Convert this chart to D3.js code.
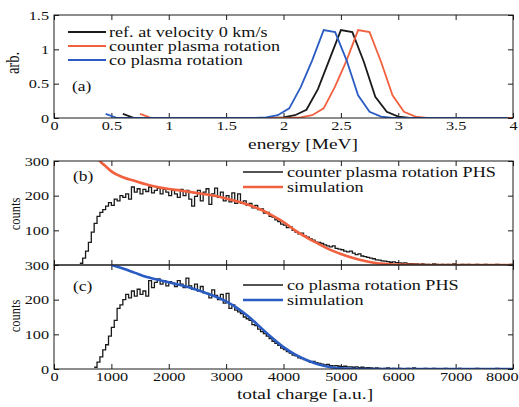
<!DOCTYPE html>
<html>
<head>
<meta charset="utf-8">
<script src="https://cdn.jsdelivr.net/npm/d3@7"></script>
<style>
  body { margin: 0; background: #fff; }
  svg text { font-family: "Liberation Serif", "DejaVu Serif", serif; fill: #111; }
</style>
</head>
<body>
<svg id="chart" width="519" height="407"></svg>
<script>
// ---------- panel (a): energy spectra, sampled every 0.1 MeV ----------
const refStart = 0.6
const refValues = [0.06, 0, 0, 0, 0, 0, 0, 0, 0, 0, 0, 0, 0, 0, 0.01, 0.04, 0.12, 0.42, 0.85, 1.28,
  1.25, 0.82, 0.31, 0.09, 0.02, 0, 0, 0, 0, 0, 0, 0, 0, 0, 0]
const counterStart = 0.75
const counterValues = [0.06, 0, 0, 0, 0, 0, 0, 0, 0, 0, 0, 0, 0, 0, 0.01, 0.04, 0.14, 0.46, 0.84, 1.28,
  1.25, 0.82, 0.33, 0.09, 0.02, 0, 0, 0, 0, 0, 0, 0, 0, 0]
const coStart = 0.45
const coValues = [0.06, 0, 0, 0, 0, 0, 0, 0, 0, 0, 0, 0, 0, 0, 0.01, 0.04, 0.14, 0.45, 0.84, 1.28,
  1.25, 0.84, 0.33, 0.09, 0.02, 0, 0, 0, 0, 0, 0, 0, 0, 0, 0, 0]
const energyStep = 0.1

const energyTicks = [0, 0.5, 1, 1.5, 2, 2.5, 3, 3.5, 4]
const arbTicks = [0, 0.5, 1, 1.5]

// ---------- panels (b) and (c): pulse height spectra, 50 a.u. bins ----------
const binWidth = 50
const phsCounterStart = 450
const phsCounter = [
  5, 20, 40, 65, 95, 120, 140, 152, 160, 170, 180,
  172, 190, 185, 200, 195, 205, 190, 225, 210, 220,
  205, 218, 212, 225, 208, 215, 222, 205, 218, 210,
  200, 215, 205, 195, 218, 200, 215, 190, 170, 198,
  215, 185, 210, 220, 175, 205, 222, 195, 210, 185,
  200, 182, 208, 178, 205, 178, 185, 172, 178, 165,
  172, 160, 162, 150, 152, 140, 138, 130, 125, 118,
  115, 108, 110, 100, 95, 90, 92, 84, 80, 75,
  72, 66, 65, 62, 58, 55, 52, 55, 48, 46,
  44, 40, 38, 40, 34, 30, 32, 26, 24, 22,
  20, 18, 15, 14, 12, 11, 10, 8, 9, 7,
  6, 5, 6, 4, 4, 3, 3, 2, 3, 2,
  2, 1, 3, 2, 1, 2, 0, 2, 1, 3,
  1, 0, 2, 1, 2, 0, 1, 2, 1, 0,
  2, 1, 0, 1, 2, 0, 1, 0, 1, 2]

const phsCoStart = 700
const phsCo = [
  5, 20, 35, 55, 70, 95,
  120, 140, 175, 185, 200, 215, 205, 225, 210, 230,
  215, 225, 210, 255, 235, 250, 260, 245, 255, 240,
  252, 248, 238, 255, 245, 235, 262, 240, 230, 245,
  225, 238, 220, 218, 205, 228, 212, 200, 215, 190,
  218, 175, 185, 170, 165, 160, 150, 145, 140, 128,
  125, 115, 108, 102, 95, 88, 80, 74, 68, 60,
  56, 50, 46, 40, 38, 32, 30, 27, 24, 20,
  22, 18, 16, 14, 12, 13, 10, 9, 10, 8,
  7, 8, 6, 6, 5, 6, 4, 5, 3, 4,
  3, 2, 3, 2, 1, 2, 3, 1, 2, 1,
  2, 1, 0, 2, 1, 3, 1, 0, 1, 2,
  1, 0, 2, 1, 0, 1, 2, 0, 1, 0,
  1, 2, 0, 1, 0, 1, 0, 2, 1, 0,
  1, 0, 1, 0, 2, 0, 1, 0, 1, 0]

const simCounterCharge = [760, 800, 900, 1000, 1200, 1400, 1600, 1800, 2000, 2200, 2400, 2600, 2800, 3000,
  3200, 3400, 3600, 3800, 4000, 4200, 4400, 4600, 4800, 5000, 5200, 5400, 5600, 5800, 6000, 6500, 7000, 8000]
const simCounter = [310, 300, 285, 270, 253, 243, 233, 225, 219, 215, 210, 205, 200, 192,
  183, 173, 160, 143, 124, 100, 80, 62, 45, 32, 21, 12, 6, 3, 1, 0, 0, 0]

const simCoCharge = [1000, 1200, 1400, 1600, 1800, 2000, 2200, 2400, 2600, 2800, 3000, 3200, 3400, 3600,
  3800, 4000, 4200, 4400, 4600, 4800, 5000, 5200, 5500, 6000, 7000, 8000]
const simCo = [300, 290, 278, 266, 258, 250, 242, 233, 222, 210, 195, 175, 150, 120,
  90, 63, 42, 26, 14, 6, 2, 0.5, 0, 0, 0, 0]

const chargeTicks = [0, 1000, 2000, 3000, 4000, 5000, 6000, 7000, 8000]

const black = "#1a1a1a"
const red = "#f2613f"
const blue = "#2a5cc4"
const serif = "'Liberation Serif', 'DejaVu Serif', serif"
const stretch = 1.25  // the source image is horizontally stretched

const svg = d3.select("#chart")
const left = 54, right = 513

function addText(g, x, y, str, size, anchor) {
  return g.append("text")
    .attr("transform", "translate(" + x + "," + y + ") scale(" + stretch + ",1)")
    .attr("font-family", serif)
    .attr("font-size", size)
    .attr("text-anchor", anchor || "start")
    .text(str)
}

function addVText(g, x, y, str, size) {
  return g.append("text")
    .attr("transform", "translate(" + x + "," + y + ") rotate(-90) scale(1," + stretch + ")")
    .attr("font-family", serif)
    .attr("font-size", size)
    .attr("text-anchor", "middle")
    .text(str)
}

function panel(id, top, bottom, xDomain, yDomain, xTicks, yTicks, opts) {
  let x = d3.scaleLinear().domain(xDomain).range([left, right])
  let y = d3.scaleLinear().domain(yDomain).range([bottom, top])
  let g = svg.append("g")

  svg.append("clipPath").attr("id", "clip-" + id)
    .append("rect").attr("x", left).attr("y", top).attr("width", right - left).attr("height", bottom - top)

  let styleAxis = function(a) {
    a.attr("font-family", serif)
    a.select(".domain").remove()
    a.selectAll(".tick line").attr("stroke", black)
    a.selectAll(".tick text")
      .attr("font-family", serif)
      .attr("font-size", 13)
      .attr("fill", "#111")
      .attr("transform", "scale(" + stretch + ",1)")
  }

  let bottomAxis = g.append("g").attr("transform", "translate(0," + bottom + ")")
    .call(d3.axisBottom(x).tickValues(xTicks).tickSize(-5).tickPadding(3)
      .tickFormat(opts.xLabels ? d3.format("") : ""))
    .call(styleAxis)
  // last label is pulled in so it stays inside the figure
  if (opts.xLabels) {
    bottomAxis.selectAll(".tick text")
      .filter(function(d) { return d === xDomain[1] && d >= 1000 })
      .attr("text-anchor", "end")
      .attr("x", 4)
  }
  g.append("g").attr("transform", "translate(0," + top + ")")
    .call(d3.axisTop(x).tickValues(xTicks).tickSize(-5).tickFormat(""))
    .call(styleAxis)
  g.append("g").attr("transform", "translate(" + left + ",0)")
    .call(d3.axisLeft(y).tickValues(yTicks).tickSize(-5).tickPadding(4).tickFormat(d3.format("")))
    .call(styleAxis)
  g.append("g").attr("transform", "translate(" + right + ",0)")
    .call(d3.axisRight(y).tickValues(yTicks).tickSize(-5).tickFormat(""))
    .call(styleAxis)

  let plot = svg.append("g").attr("clip-path", "url(#clip-" + id + ")")

  svg.append("rect")
    .attr("x", left).attr("y", top)
    .attr("width", right - left).attr("height", bottom - top)
    .attr("fill", "none").attr("stroke", black).attr("stroke-width", 1)

  return { x: x, y: y, g: g, plot: plot }
}

// ---------- panel (a) ----------
let pa = panel("a", 15, 118, [0, 4], [0, 1.5], energyTicks, arbTicks, { xLabels: true })

let spectra = [
  { start: refStart, values: refValues, color: black, name: "ref. at velocity 0 km/s" },
  { start: counterStart, values: counterValues, color: red, name: "counter plasma rotation" },
  { start: coStart, values: coValues, color: blue, name: "co plasma rotation" }
]

spectra.forEach(function(s) {
  let gen = d3.line()
    .x(function(d, i) { return pa.x(s.start + i * energyStep) })
    .y(function(d) { return pa.y(d) })
  pa.plot.append("path")
    .attr("d", gen(s.values))
    .attr("fill", "none")
    .attr("stroke", s.color)
    .attr("stroke-width", 1.8)
})

spectra.forEach(function(s, i) {
  let ly = 32 + i * 14
  svg.append("line").attr("x1", 68).attr("x2", 106).attr("y1", ly).attr("y2", ly)
    .attr("stroke", s.color).attr("stroke-width", 1.8)
  addText(svg, 109, ly + 5, s.name, 14.5)
})
addText(svg, 72, 91, "(a)", 14)
addText(svg, 303, 149, "energy [MeV]", 15.5, "middle")
addVText(svg, 19, 63, "arb.", 14.5)

// ---------- panels (b) and (c) ----------
function histogram(p, start, values, color) {
  let pts = values.map(function(v, i) { return [start + i * binWidth, v] })
  pts.push([start + values.length * binWidth, values[values.length - 1]])
  let gen = d3.line()
    .x(function(d) { return p.x(d[0]) })
    .y(function(d) { return p.y(d[1]) })
    .curve(d3.curveStepAfter)
  p.plot.append("path").attr("d", gen(pts))
    .attr("fill", "none").attr("stroke", color).attr("stroke-width", 1.3)
}

function simulation(p, charges, values, color) {
  let gen = d3.line()
    .x(function(d) { return p.x(d[0]) })
    .y(function(d) { return p.y(d[1]) })
    .curve(d3.curveMonotoneX)
  p.plot.append("path").attr("d", gen(d3.zip(charges, values)))
    .attr("fill", "none").attr("stroke", color).attr("stroke-width", 2.6)
}

let pb = panel("b", 161, 265, [0, 8000], [0, 300], chargeTicks, [100, 200, 300], { xLabels: false })
histogram(pb, phsCounterStart, phsCounter, black)
simulation(pb, simCounterCharge, simCounter, red)

let pc = panel("c", 265, 369, [0, 8000], [0, 300], chargeTicks, [0, 100, 200, 300], { xLabels: true })
histogram(pc, phsCoStart, phsCo, black)
simulation(pc, simCoCharge, simCo, blue)

let legends = [
  { y: 172, items: [["counter plasma rotation PHS", black, 1.3], ["simulation", red, 2.6]] },
  { y: 285, items: [["co plasma rotation PHS", black, 1.3], ["simulation", blue, 2.6]] }
]
legends.forEach(function(l) {
  l.items.forEach(function(it, i) {
    let ly = l.y + i * 15
    svg.append("line").attr("x1", 243).attr("x2", 283).attr("y1", ly).attr("y2", ly)
      .attr("stroke", it[1]).attr("stroke-width", it[2])
    addText(svg, 287, ly + 5, it[0], 14.5)
  })
})

addText(svg, 73, 181, "(b)", 14)
addText(svg, 73, 291, "(c)", 14)
addVText(svg, 20, 214, "counts", 12.5)
addVText(svg, 20, 316, "counts", 12.5)
addText(svg, 305, 399, "total charge [a.u.]", 15.5, "middle")
</script>
</body>
</html>
